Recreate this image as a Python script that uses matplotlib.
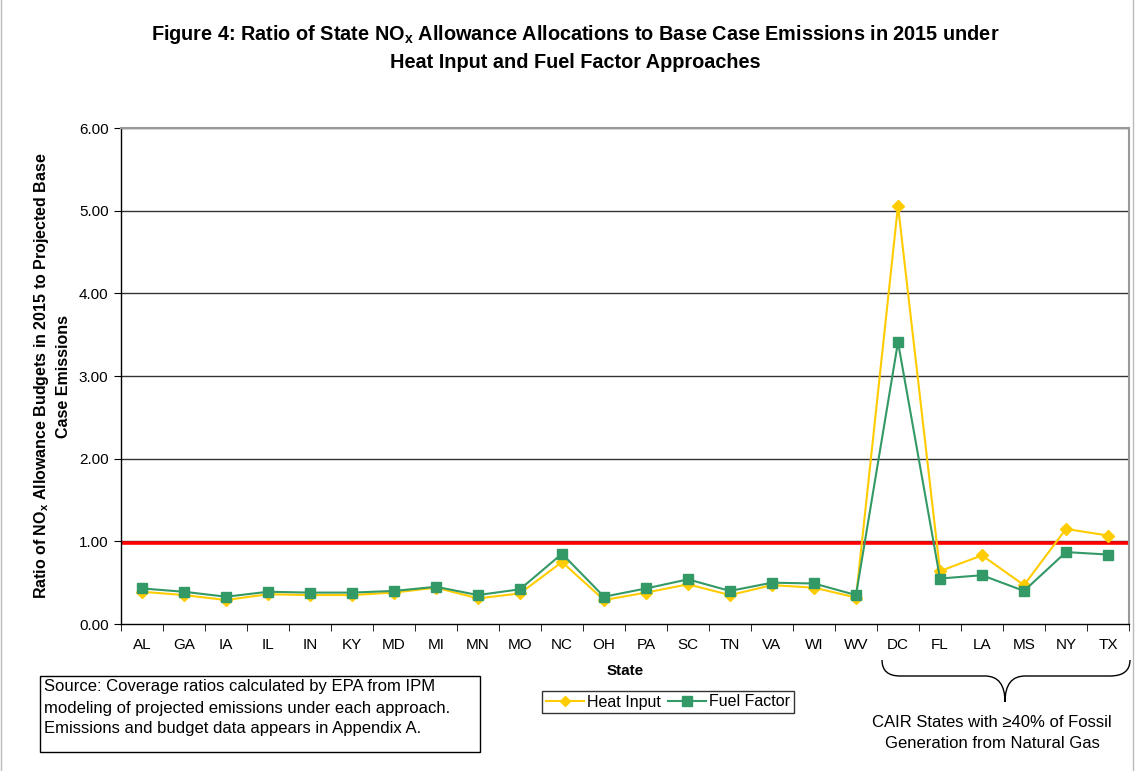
import matplotlib.pyplot as plt
import numpy as np
from matplotlib.path import Path
from matplotlib.patches import PathPatch, Rectangle
from matplotlib.lines import Line2D

plt.rcParams['font.family'] = ['Liberation Sans', 'DejaVu Sans']
plt.rcParams['mathtext.fontset'] = 'custom'
plt.rcParams['mathtext.rm'] = 'Liberation Sans'
plt.rcParams['mathtext.bf'] = 'Liberation Sans:bold'

# data
states = ['AL', 'GA', 'IA', 'IL', 'IN', 'KY', 'MD', 'MI', 'MN', 'MO', 'NC', 'OH',
          'PA', 'SC', 'TN', 'VA', 'WI', 'WV', 'DC', 'FL', 'LA', 'MS', 'NY', 'TX']
heat_input = [0.39, 0.35, 0.29, 0.36, 0.35, 0.35, 0.38, 0.44, 0.31, 0.37, 0.75, 0.29,
              0.38, 0.48, 0.35, 0.47, 0.44, 0.32, 5.06, 0.64, 0.83, 0.47, 1.15, 1.07]
fuel_factor = [0.43, 0.39, 0.33, 0.39, 0.38, 0.38, 0.40, 0.45, 0.35, 0.42, 0.85, 0.33,
               0.43, 0.54, 0.40, 0.50, 0.49, 0.35, 3.41, 0.55, 0.59, 0.40, 0.87, 0.84]
ref_line = 0.985
yticks = [0, 1, 2, 3, 4, 5, 6]

W, H = 1135, 771
fig = plt.figure(figsize=(W / 100, H / 100), dpi=100)
ax = fig.add_axes([121 / W, 1 - 624 / H, (1129 - 121) / W, (624 - 128) / H])

x = np.arange(len(states))
for yv in yticks[1:]:
    ax.axhline(yv, color='#333333', lw=1.0, zorder=1)
ax.axhline(ref_line, color='#FF0000', lw=2.6, zorder=2)

ax.plot(x, heat_input, color='#FFCC00', lw=1.5, marker='D', ms=6,
        mec='#FFCC00', mfc='#FFCC00', label='Heat Input', zorder=3)
ax.plot(x, fuel_factor, color='#339966', lw=1.5, marker='s', ms=7.5,
        mec='#339966', mfc='#339966', label='Fuel Factor', zorder=4)

ax.set_xlim(-0.5, len(states) - 0.5)
ax.set_ylim(0, 6)
ax.set_yticks(yticks)
ax.set_yticklabels([f'{v:.2f}' for v in yticks], fontsize=11)
ax.set_xticks(x)
ax.set_xticklabels(states, fontsize=11)
ax.set_xticks(np.arange(-0.5, len(states)), minor=True)
ax.tick_params(axis='x', which='major', length=0, pad=10)
ax.tick_params(axis='x', which='minor', length=5, direction='out', color='black')
ax.tick_params(axis='y', length=5, direction='out', pad=4)

for side in ['top', 'right']:
    ax.spines[side].set_color('#999999')
    ax.spines[side].set_linewidth(1.5)
for side in ['left', 'bottom']:
    ax.spines[side].set_color('black')
    ax.spines[side].set_linewidth(1.0)

ax.set_xlabel('State', fontsize=11, fontweight='bold', labelpad=9)
ax.set_ylabel('Ratio of NO$_{\\mathbf{x}}$ Allowance Budgets in 2015 to Projected Base\nCase Emissions',
              fontsize=11.5, fontweight='bold', labelpad=6, multialignment='center',
              linespacing=1.4)

fig.text(575 / W, 1 - 35 / H,
         'Figure 4: Ratio of State NO$_{\\mathbf{x}}$ Allowance Allocations to Base Case Emissions in 2015 under',
         ha='center', va='center', fontsize=14.3, fontweight='bold')
fig.text(575 / W, 1 - 62 / H, 'Heat Input and Fuel Factor Approaches',
         ha='center', va='center', fontsize=14.3, fontweight='bold')

leg = fig.legend(loc='center', bbox_to_anchor=(668 / W, 1 - 702 / H), ncol=2,
                 fontsize=11.5, frameon=True, fancybox=False, edgecolor='black',
                 handlelength=2.4, handletextpad=0.2, columnspacing=0.4,
                 borderpad=0.25, markerscale=0.9)
leg.get_frame().set_linewidth(1.0)

# source box
fig.patches.append(Rectangle((40 / W, 1 - 752 / H), 440 / W, 76 / H,
                             transform=fig.transFigure, fill=False,
                             edgecolor='black', lw=1.0))
fig.text(44 / W, 1 - 708 / H,
         'Source: Coverage ratios calculated by EPA from IPM\n'
         'modeling of projected emissions under each approach.\n'
         'Emissions and budget data appears in Appendix A.',
         ha='left', va='center', fontsize=12, linespacing=1.5)

# brace under the gas states
def px(xp, yp):
    return (xp / W, 1 - yp / H)

verts = [px(882, 660), px(882, 676), px(900, 676),
         px(985, 676), px(1005, 676), px(1005, 702),
         px(1005, 676), px(1025, 676),
         px(1110, 676), px(1130, 676), px(1130, 660)]
codes = [Path.MOVETO, Path.CURVE3, Path.CURVE3,
         Path.LINETO, Path.CURVE3, Path.CURVE3,
         Path.CURVE3, Path.CURVE3,
         Path.LINETO, Path.CURVE3, Path.CURVE3]
fig.patches.append(PathPatch(Path(verts, codes), transform=fig.transFigure,
                             fill=False, edgecolor='black', lw=1.0))
fig.text(992 / W, 1 - 733 / H,
         'CAIR States with \u226540% of Fossil\nGeneration from Natural Gas',
         ha='center', va='center', fontsize=12, linespacing=1.5)

# light outer frame lines
fig.add_artist(Line2D([1 / W, 1 / W], [0, 1], transform=fig.transFigure, color='#BBBBBB', lw=1))
fig.add_artist(Line2D([1133 / W, 1133 / W], [0, 1], transform=fig.transFigure, color='#BBBBBB', lw=1))

fig.savefig('out.png', dpi=100)
